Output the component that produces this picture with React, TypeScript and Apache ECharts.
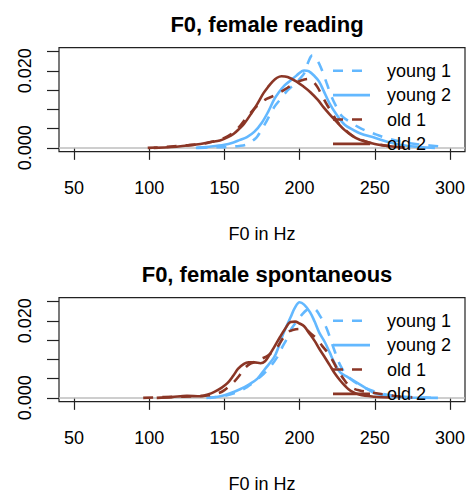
import React, { useEffect, useRef } from "react";
import * as echarts from "echarts";

// ---- data (F0 in Hz, density) ----
const seriesNames = ["young 1", "young 2", "old 1", "old 2"];
const panelTitles = ["F0, female reading", "F0, female spontaneous"];
const xTicks = [50, 100, 150, 200, 250, 300];
const yTicks = [0, 0.005, 0.01, 0.015, 0.02, 0.025];
const yLabels = [0, 0.02];

const readingYoung1: [number, number][] = [
  [132, 0], [140, 0.0001], [150, 0.0002], [160, 0.0005], [165, 0.0009], [170, 0.0022], [172, 0.003],
  [177, 0.0062], [183, 0.0105], [187, 0.0125], [192, 0.0149], [196, 0.0163], [201, 0.0183],
  [203, 0.0193], [206, 0.0225], [208.5, 0.024], [211, 0.0232], [214, 0.021], [218, 0.0168],
  [221, 0.0135], [224, 0.011], [228, 0.0083], [234, 0.0066], [241, 0.005], [250, 0.0036],
  [259, 0.0024], [270, 0.0014], [281, 0.0008], [290, 0.0005], [298, 0.0002],
];
const readingYoung2: [number, number][] = [
  [131, 0], [140, 0.0003], [150, 0.0008], [156, 0.0014], [160, 0.002], [165, 0.0028], [170, 0.0042],
  [175, 0.0066], [179, 0.0093], [183, 0.0125], [186, 0.0143], [190, 0.0162], [194, 0.0175],
  [198, 0.0188], [203, 0.0201], [206, 0.0199], [210, 0.0186], [213, 0.0172], [216, 0.0148],
  [220, 0.0115], [225, 0.0084], [230, 0.006], [235, 0.0048], [240, 0.0038], [250, 0.0026],
  [260, 0.0014], [270, 0.0006], [280, 0.0002], [290, 0],
];
const readingOld1: [number, number][] = [
  [99, 0], [110, 0.0002], [123, 0.0006], [135, 0.001], [141, 0.0015], [150, 0.0026], [156, 0.004],
  [161, 0.006], [165, 0.008], [172, 0.011], [178, 0.0127], [184, 0.0137], [187, 0.0144],
  [192, 0.0156], [196, 0.0166], [201, 0.0175], [206, 0.0179], [209, 0.0172], [212, 0.0157],
  [215, 0.0135], [218.5, 0.011], [222, 0.0088], [225, 0.0068], [230, 0.0048], [235, 0.0032],
  [240, 0.0022], [248, 0.0012], [255, 0.0007], [262, 0.0003], [270, 0.0001],
];
const readingOld2: [number, number][] = [
  [103, 0], [115, 0.0002], [125, 0.0006], [134, 0.001], [141, 0.0015], [147, 0.0019], [152, 0.0027],
  [156, 0.0036], [160, 0.005], [163, 0.0062], [168, 0.009], [172, 0.0115], [176, 0.0142],
  [179, 0.0158], [182, 0.0172], [185, 0.0182], [188, 0.0186], [192, 0.0184], [198, 0.0172],
  [203, 0.0158], [207, 0.0145], [212, 0.0125], [216, 0.0105], [220, 0.0087], [225, 0.0066],
  [230, 0.0046], [235, 0.0031], [240, 0.0021], [250, 0.001], [260, 0.0004], [268, 0.0001],
];

const spontYoung1: [number, number][] = [
  [138, 0], [150, 0.0005], [160, 0.0017], [165, 0.0028], [170, 0.0042], [176, 0.0062], [180, 0.0078],
  [185, 0.0105], [188, 0.0128], [192, 0.0157], [195, 0.0182], [198.5, 0.02], [202, 0.0218],
  [205, 0.0229], [208, 0.0234], [211, 0.0228], [214, 0.021], [218, 0.018], [223, 0.0125],
  [227, 0.0085], [232, 0.0056], [240, 0.0033], [250, 0.0016], [260, 0.0007], [270, 0.0003],
  [280, 0.0001], [292, 0],
];
const spontYoung2: [number, number][] = [
  [140, 0], [150, 0.0007], [160.7, 0.0023], [166, 0.0034], [172, 0.005], [177, 0.0075], [183, 0.0105],
  [186, 0.0132], [189, 0.0165], [194, 0.0209], [197, 0.0235], [200, 0.0248], [203, 0.0242],
  [207, 0.0222], [210, 0.0198], [213, 0.017], [217, 0.0143], [220, 0.0118], [223, 0.0092],
  [227, 0.0066], [232, 0.0054], [237, 0.0042], [243, 0.0028], [250, 0.0012], [260, 0.0004],
  [270, 0.0001], [292, 0],
];
const spontOld1: [number, number][] = [
  [96, 0], [110, 0.0002], [123, 0.0003], [135, 0.0005], [141, 0.0007], [146, 0.0012], [150, 0.002],
  [156, 0.004], [160, 0.0058], [163, 0.0075], [167, 0.0088], [170, 0.0093], [175, 0.0102],
  [179, 0.011], [185, 0.0131], [189, 0.0155], [192, 0.017], [196, 0.0177], [201, 0.0179],
  [205, 0.0175], [208, 0.0165], [212, 0.0152], [215, 0.0135], [218.5, 0.0118], [222, 0.0097],
  [225, 0.0075], [230, 0.0045], [234, 0.0028], [240, 0.0019], [246, 0.0015], [256, 0.0009],
  [265, 0.0004], [275, 0.0001],
];
const spontOld2: [number, number][] = [
  [105, 0], [115, 0.0002], [125, 0.0005], [134, 0.0004], [139, 0.0009], [143, 0.0015], [148, 0.0026],
  [152, 0.0038], [156, 0.0058], [159, 0.0075], [163, 0.0088], [166, 0.0092], [170, 0.0092],
  [174, 0.009], [177, 0.0095], [180, 0.0112], [183, 0.0131], [187, 0.0158], [190, 0.0177],
  [194, 0.0197], [197, 0.0198], [200, 0.0193], [203, 0.0186], [206, 0.017], [210, 0.0148],
  [213, 0.0128], [216, 0.011], [220, 0.0085], [223, 0.0066], [227, 0.0045], [230, 0.0032],
  [234, 0.0018], [240, 0.0008], [250, 0.0003], [260, 0.0001],
];

const panelData = [
  [readingYoung1, readingYoung2, readingOld1, readingOld2],
  [spontYoung1, spontYoung2, spontOld1, spontOld2],
];

const BLUE = "#63B8FF";
const BROWN = "#8B3626";
const seriesColors = [BLUE, BLUE, BROWN, BROWN];
const DASH = [10, 9];
const seriesDashed = [true, false, true, false];
const FONT = "Liberation Sans, Arial, Helvetica, sans-serif";

export default function App() {
  const ref = useRef<HTMLDivElement>(null);
  useEffect(() => {
    if (!ref.current) return;
    const chart = echarts.init(ref.current, undefined, { renderer: "svg" });
    const panelTop = [47.7, 297.7];
    const grids = panelTop.map((t) => ({
      left: 59,
      right: 3,
      top: t,
      height: 104,
      show: true,
      borderColor: "#222",
      borderWidth: 1.2,
      backgroundColor: "transparent",
      containLabel: false,
    }));
    const xAxes = panelTop.map((_, i) => ({
      type: "value",
      gridIndex: i,
      min: 40,
      max: 310,
      axisLine: { show: false },
      splitLine: { show: false },
      axisTick: { show: true, length: 12, customValues: xTicks, lineStyle: { color: "#222", width: 1.2 } },
      axisLabel: {
        customValues: xTicks,
        margin: 27,
        fontSize: 18,
        color: "#000",
        fontFamily: FONT,
      },
      name: "F0 in Hz",
      nameLocation: "middle",
      nameGap: 73,
      nameTextStyle: { fontSize: 18, color: "#000", fontFamily: FONT },
    }));
    const yAxes = panelTop.map((_, i) => ({
      type: "value",
      gridIndex: i,
      min: -0.001,
      max: 0.026,
      axisLine: { show: false },
      splitLine: { show: false },
      axisTick: { show: true, length: 12, customValues: yTicks, lineStyle: { color: "#222", width: 1.2 } },
      axisLabel: {
        customValues: yLabels,
        rotate: 90,
        margin: 25,
        fontSize: 18,
        color: "#000",
        fontFamily: FONT,
        formatter: (v: number) => v.toFixed(3),
      },
    }));
    const series: any[] = [];
    panelData.forEach((sets, p) => {
      sets.forEach((d, k) => {
        series.push({
          type: "line",
          name: seriesNames[k],
          xAxisIndex: p,
          yAxisIndex: p,
          data: d,
          symbol: "none",
          showSymbol: false,
          smooth: 0.35,
          z: 3 + k,
          lineStyle: {
            color: seriesColors[k],
            width: 2.6,
            type: seriesDashed[k] ? DASH : "solid",
            cap: "butt",
          },
          markLine:
            k === 0
              ? {
                  silent: true,
                  symbol: ["none", "none"],
                  label: { show: false },
                  lineStyle: { color: "#bebebe", width: 1.5, type: "solid" },
                  data: [{ yAxis: 0 }],
                  z: 1,
                }
              : undefined,
        });
      });
    });
    const graphic: any[] = [];
    panelTop.forEach((t, p) => {
      seriesNames.forEach((name, k) => {
        const y = t + 23 + k * 24.4;
        graphic.push({
          type: "line",
          z: 20,
          shape: { x1: 333, y1: y, x2: 370, y2: y },
          style: {
            stroke: seriesColors[k],
            lineWidth: 2.6,
            lineDash: seriesDashed[k] ? DASH : null,
          },
        });
        graphic.push({
          type: "text",
          z: 21,
          x: 387,
          y: y,
          style: {
            text: name,
            fill: "#000",
            font: `18px ${FONT}`,
            textVerticalAlign: "middle",
            verticalAlign: "middle",
          },
        });
      });
    });
    chart.setOption({
      animation: false,
      backgroundColor: "#fff",
      title: panelTitles.map((txt, i) => ({
        text: txt,
        left: 262,
        textAlign: "center",
        top: 8 + i * 250,
        textStyle: { fontSize: 22, fontWeight: "bold", color: "#000", fontFamily: FONT },
      })),
      grid: grids,
      xAxis: xAxes,
      yAxis: yAxes,
      series,
      graphic,
    });
    return () => chart.dispose();
  }, []);
  return (
    <div
      ref={ref}
      style={{ position: "fixed", left: 0, top: 0, width: 468, height: 495, background: "#fff" }}
    />
  );
}
